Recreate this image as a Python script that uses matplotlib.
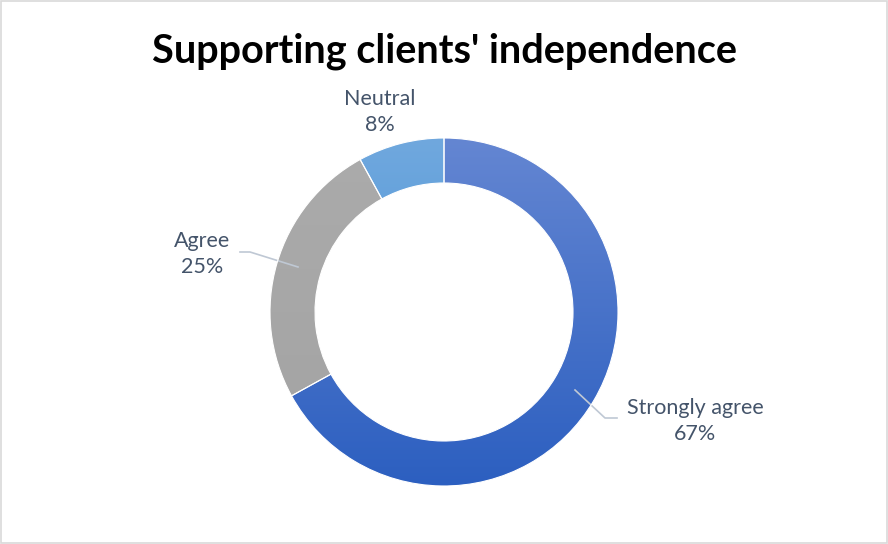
import numpy as np
import matplotlib
matplotlib.use("Agg")
import matplotlib.pyplot as plt
from matplotlib.colors import LinearSegmentedColormap

labels = ["Strongly agree", "Agree", "Neutral"]
shares = [67, 25, 8]
# top / bottom colour of each wedge's vertical gradient
grad_top = ["#6486d2", "#ababab", "#70a8de"]
grad_bot = ["#2c5fc0", "#a3a3a3", "#3b8bd4"]

W, H = 888, 544
cx, cy, r_out, ring = 444, 544 - 312, 174, 45

plt.rcParams["font.family"] = ["Lato", "DejaVu Sans"]
fig = plt.figure(figsize=(W / 100, H / 100), dpi=100)
ax = fig.add_axes([0, 0, 1, 1])

wedges, _ = ax.pie(shares, center=(cx, cy), radius=r_out, startangle=90,
                   counterclock=False, wedgeprops=dict(width=ring, linewidth=0),
                   frame=True)
ax.set_xlim(0, W)
ax.set_ylim(0, H)
ax.set_aspect("equal")
ax.axis("off")

# fill each wedge with a vertical gradient clipped to its outline
for w, c0, c1 in zip(wedges, grad_top, grad_bot):
    cmap = LinearSegmentedColormap.from_list("g", [c1, c0])
    grad = np.linspace(0, 1, 256).reshape(-1, 1)
    im = ax.imshow(grad, cmap=cmap, origin="lower", aspect="auto",
                   extent=(cx - r_out, cx + r_out, cy - r_out, cy + r_out), zorder=2)
    im.set_clip_path(w)
    w.set_facecolor("none")

# white separators between wedges
for w in wedges:
    w.set_edgecolor("white")
    w.set_linewidth(0.8)
    w.set_zorder(3)

txt = "#44546a"
lead = "#bfc8d4"
label_pos = [(695, 421), (202, 254), (380, 112)]
for lab, val, (x, y) in zip(labels, shares, label_pos):
    ax.text(x, H - y, f"{lab}\n{val}%", ha="center", va="center", fontsize=15.5,
            color=txt, linespacing=1.35)

# leader lines
ax.plot([240, 250, 298], [H - 252, H - 252, H - 267], color=lead, lw=1.2)
ax.plot([575, 605, 617], [H - 390, H - 418, H - 418], color=lead, lw=1.2)

ax.text(444, H - 51, "Supporting clients' independence", ha="center", va="center",
        fontsize=28.5, fontweight="bold", color="black")

# outer chart border
ax.add_patch(plt.Rectangle((1, 1), W - 2, H - 2, fill=False, edgecolor="#d9d9d9", lw=1.2))

fig.savefig("out.png", dpi=100)
